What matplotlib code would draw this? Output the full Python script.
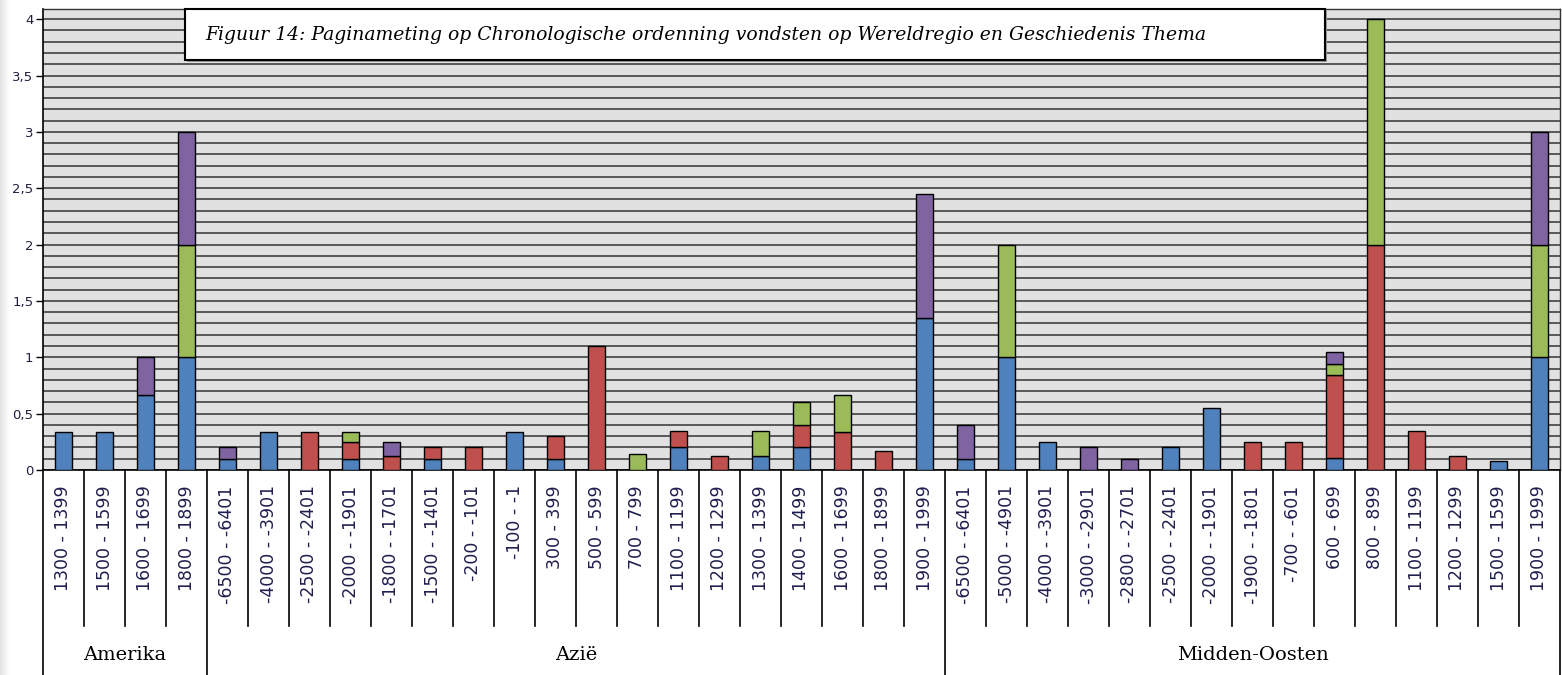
import numpy as np
import matplotlib
matplotlib.use("Agg")
import matplotlib.pyplot as plt
from matplotlib.patches import Rectangle
from matplotlib.lines import Line2D

# categories per region
regions = ["Amerika", "Azië", "Midden-Oosten"]
amerika = ["1300 - 1399", "1500 - 1599", "1600 - 1699", "1800 - 1899"]
azie = ["-6500 - -6401", "-4000 - -3901", "-2500 - -2401", "-2000 - -1901",
        "-1800 - -1701", "-1500 - -1401", "-200 - -101", "-100 - -1",
        "300 - 399", "500 - 599", "700 - 799", "1100 - 1199", "1200 - 1299",
        "1300 - 1399", "1400 - 1499", "1600 - 1699", "1800 - 1899", "1900 - 1999"]
midden = ["-6500 - -6401", "-5000 - -4901", "-4000 - -3901", "-3000 - -2901",
          "-2800 - -2701", "-2500 - -2401", "-2000 - -1901", "-1900 - -1801",
          "-700 - -601", "600 - 699", "800 - 899", "1100 - 1199", "1200 - 1299",
          "1500 - 1599", "1900 - 1999"]
labels = amerika + azie + midden
group_sizes = [len(amerika), len(azie), len(midden)]

# series (stacked bottom -> top)
blue = [0.333, 0.333, 0.667, 1,
        0.1, 0.333, 0, 0.1, 0, 0.1, 0, 0.333, 0.1, 0, 0, 0.2, 0, 0.125, 0.2, 0, 0, 1.35,
        0.1, 1, 0.25, 0, 0, 0.2, 0.55, 0, 0, 0.11, 0, 0, 0, 0.083, 1]
red = [0, 0, 0, 0,
       0, 0, 0.333, 0.15, 0.125, 0.1, 0.2, 0, 0.2, 1.1, 0, 0.15, 0.125, 0, 0.2, 0.333, 0.167, 0,
       0, 0, 0, 0, 0, 0, 0, 0.25, 0.25, 0.73, 2, 0.35, 0.125, 0, 0]
green = [0, 0, 0, 1,
         0, 0, 0, 0.083, 0, 0, 0, 0, 0, 0, 0.143, 0, 0, 0.225, 0.2, 0.333, 0, 0,
         0, 1, 0, 0, 0, 0, 0, 0, 0, 0.1, 2, 0, 0, 0, 1]
purple = [0, 0, 0.333, 1,
          0.1, 0, 0, 0, 0.125, 0, 0, 0, 0, 0, 0, 0, 0, 0, 0, 0, 0, 1.1,
          0.3, 0, 0, 0.2, 0.1, 0, 0, 0, 0, 0.11, 0, 0, 0, 0, 1]

series = [blue, red, green, purple]
colors = ["#4f81bd", "#c0504d", "#9bbb59", "#8064a2"]

title = "Figuur 14: Paginameting op Chronologische ordenning vondsten op Wereldregio en Geschiedenis Thema"

W, H = 1562, 675
fig = plt.figure(figsize=(W / 100, H / 100), dpi=100)
fig.patch.set_facecolor("white")

# faint page shadow on the left edge
shadow = fig.add_axes([0, 0, 10 / W, 1])
shadow.imshow(np.linspace(0, 1, 20)[None, :], cmap="gray", vmin=-8, vmax=1,
              aspect="auto", extent=(0, 1, 0, 1))
shadow.set_axis_off()

# axes box in pixels: x 43..1560, y 9..470 (from top)
ax = fig.add_axes([43 / W, 1 - 470 / H, (1560 - 43) / W, (470 - 9) / H])
ax.set_facecolor("#e1e1e1")

x = np.arange(len(labels))
bottom = np.zeros(len(labels))
for vals, c in zip(series, colors):
    vals = np.array(vals, dtype=float)
    lw = np.where(vals > 0, 1.0, 0.0)
    ax.bar(x, vals, width=0.43, bottom=bottom, color=c, edgecolor="black",
           linewidth=lw, zorder=3)
    bottom += vals

ax.set_xlim(-0.5, len(labels) - 0.5)
ax.set_ylim(0, 4.09)

# horizontal grid every 0.1
ax.set_yticks(np.arange(0, 4.01, 0.5))
ax.set_yticks(np.arange(0, 4.01, 0.1), minor=True)
ax.set_yticklabels(["0", "0,5", "1", "1,5", "2", "2,5", "3", "3,5", "4"])
ax.grid(True, axis="y", which="both", color="#333333", linewidth=1.1, zorder=1)
ax.set_axisbelow(True)
ax.tick_params(axis="y", which="major", length=5, width=1, color="black",
               labelsize=9.5, labelcolor="#1f1f3f", pad=2)
ax.tick_params(axis="y", which="minor", length=0)

ax.set_xticks(x)
ax.set_xticklabels(labels, rotation=90, va="top", ha="center",
                   fontsize=12.5, color="#1f1f4f")
ax.tick_params(axis="x", length=0, pad=11)

for s in ["top", "right"]:
    ax.spines[s].set_color("#333333")
    ax.spines[s].set_linewidth(1)
ax.spines["left"].set_color("black")
ax.spines["bottom"].set_color("black")
ax.spines["left"].set_linewidth(1.2)
ax.spines["bottom"].set_linewidth(1.2)

# separators below the axis
trans = ax.get_xaxis_transform()
y_short = -(626 - 470) / (470 - 9)
y_long = -(675 - 470) / (470 - 9)
edges = np.cumsum([0] + group_sizes) - 0.5
for k in range(len(labels) + 1):
    xb = k - 0.5
    yend = y_long if xb in edges else y_short
    ax.add_line(Line2D([xb, xb], [0, yend], transform=trans, color="black",
                       linewidth=1.2, clip_on=False))

# region labels
y_group = -(655 - 470) / (470 - 9)
for name, a, b in zip(regions, edges[:-1], edges[1:]):
    ax.text((a + b) / 2, y_group, name, transform=trans, ha="center",
            va="center", fontsize=14, family="DejaVu Serif", color="black")

# title box
bx0, bx1, by0, by1 = 185, 1325, 9, 60
fig.patches.append(Rectangle((bx0 / W + 2 / W, 1 - by1 / H - 2 / H),
                             (bx1 - bx0) / W, (by1 - by0) / H,
                             transform=fig.transFigure, facecolor="#9a9a9a",
                             edgecolor="none", zorder=5))
fig.patches.append(Rectangle((bx0 / W, 1 - by1 / H), (bx1 - bx0) / W,
                             (by1 - by0) / H, transform=fig.transFigure,
                             facecolor="white", edgecolor="black",
                             linewidth=1.5, zorder=6))
fig.text(205 / W, 1 - 35 / H, title, ha="left", va="center", fontsize=13.5,
         family="DejaVu Serif", style="italic", color="black", zorder=7)

fig.savefig("out.png", dpi=100)
